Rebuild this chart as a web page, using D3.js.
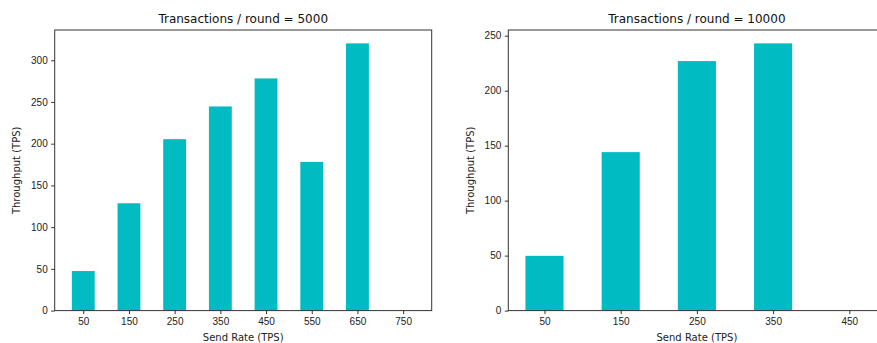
<!DOCTYPE html>
<html>
<head>
<meta charset="utf-8">
<script src="https://cdn.jsdelivr.net/npm/d3@7"></script>
<style>
  body { margin: 0; background: #fff; }
  svg { font-family: "DejaVu Sans", sans-serif; display: block; }
  .tick text { fill: #222; font-size: 10px; }
  .tick line { stroke: #333; }
</style>
</head>
<body>
<svg id="chart" width="877" height="343"></svg>
<script>
// chart data
const rates5000 = [50, 150, 250, 350, 450, 550, 650, 750];
const tps5000 = [47.4, 128.6, 205.4, 244.6, 278.2, 178.2, 320.2, 0];
const rates10000 = [50, 150, 250, 350, 450];
const tps10000 = [49.8, 144.1, 226.9, 243.0, 0];
const titles = ['Transactions / round = 5000', 'Transactions / round = 10000'];
const yTicks5000 = [0, 50, 100, 150, 200, 250, 300];
const yTicks10000 = [0, 50, 100, 150, 200, 250];

const barColor = '#00bcc2';
const svg = d3.select('#chart');

const panels = [
  {rates: rates5000, tps: tps5000, title: titles[0], yTicks: yTicks5000,
   left: 54.7, right: 431.7, top: 30, bottom: 310.6, ylabelX: 16},
  {rates: rates10000, tps: tps10000, title: titles[1], yTicks: yTicks10000,
   left: 508.3, right: 885.5, top: 30, bottom: 310.6, ylabelX: 470.7}
];

panels.forEach(function(p){
  const barW = 50;
  let lo = d3.min(p.rates) - barW / 2, hi = d3.max(p.rates) + barW / 2;
  let pad = (hi - lo) * 0.05;
  const x = d3.scaleLinear().domain([lo - pad, hi + pad]).range([p.left, p.right]);
  const ymax = d3.max(p.tps) * 1.05;
  const y = d3.scaleLinear().domain([0, ymax]).range([p.bottom, p.top]);

  const g = svg.append('g');

  g.selectAll('rect.bar').data(p.tps).enter().append('rect')
    .attr('class', 'bar')
    .attr('x', function(d, i){ return x(p.rates[i] - barW / 2); })
    .attr('width', function(d, i){ return x(p.rates[i] + barW / 2) - x(p.rates[i] - barW / 2); })
    .attr('y', function(d){ return y(d); })
    .attr('height', function(d){ return y(0) - y(d); })
    .attr('fill', barColor);

  const xAxis = d3.axisBottom(x).tickValues(p.rates).tickSize(3.5).tickPadding(3.5).tickFormat(d3.format('d'));
  g.append('g').attr('transform', 'translate(0,' + p.bottom + ')').call(xAxis)
    .call(function(a){ a.select('.domain').remove(); });

  const yAxis = d3.axisLeft(y).tickValues(p.yTicks).tickSize(3.5).tickPadding(3.5).tickFormat(d3.format('d'));
  g.append('g').attr('transform', 'translate(' + p.left + ',0)').call(yAxis)
    .call(function(a){ a.select('.domain').remove(); });

  g.append('rect')
    .attr('x', p.left).attr('y', p.top)
    .attr('width', p.right - p.left).attr('height', p.bottom - p.top)
    .attr('fill', 'none').attr('stroke', '#333').attr('stroke-width', 1);

  g.append('text')
    .attr('x', (p.left + Math.min(p.right, 877 + (p.right - 877)) ) / 2)
    .attr('y', 23)
    .attr('text-anchor', 'middle')
    .attr('font-size', 12)
    .attr('fill', '#111')
    .text(p.title);

  g.append('text')
    .attr('x', (p.left + p.right) / 2)
    .attr('y', 341)
    .attr('text-anchor', 'middle')
    .attr('font-size', 10)
    .attr('fill', '#222')
    .text('Send Rate (TPS)');

  g.append('text')
    .attr('transform', 'translate(' + p.ylabelX + ',' + ((p.top + p.bottom) / 2) + ') rotate(-90)')
    .attr('text-anchor', 'middle')
    .attr('dy', '0.35em')
    .attr('font-size', 10)
    .attr('fill', '#222')
    .text('Throughput (TPS)');
});
</script>
</body>
</html>
